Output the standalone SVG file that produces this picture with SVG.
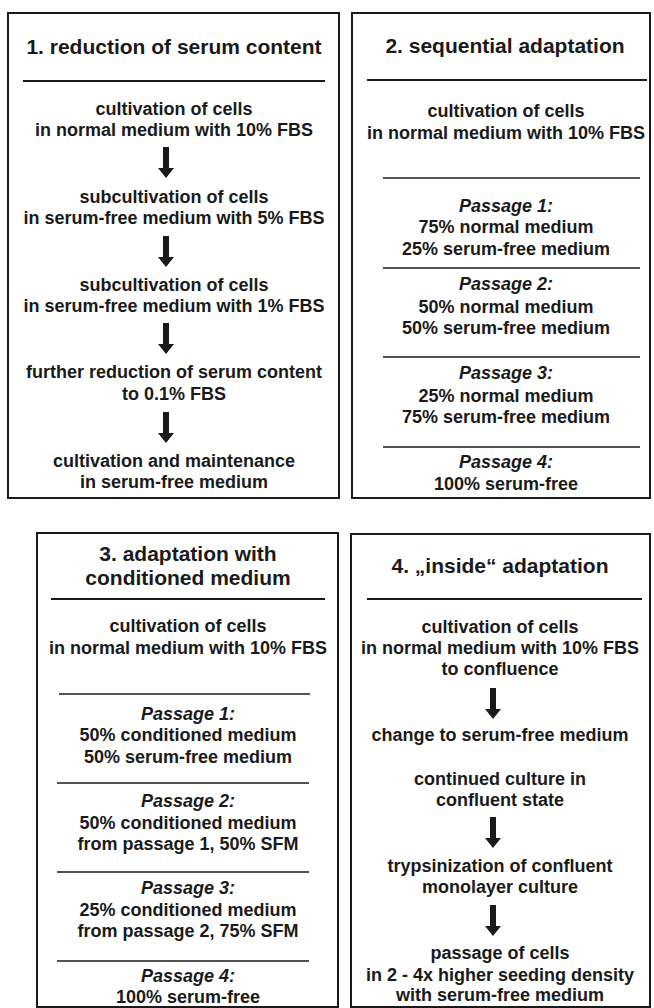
<svg xmlns="http://www.w3.org/2000/svg" xmlns:xlink="http://www.w3.org/1999/xlink" width="654" height="1008" viewBox="0 0 654 1008">
<style>
.box{fill:#fff;stroke:#1a1a1a;stroke-width:2}
.sep{stroke:#1a1a1a;stroke-width:2}
.sep2{stroke:#1a1a1a;stroke-width:1.6}
text{font-family:"Liberation Sans",Arial,Helvetica,sans-serif;font-weight:bold;fill:#1a1a1a;text-anchor:middle}
.t{font-size:21px}
.b{font-size:18px}
.i{font-size:18px;font-style:italic}
.arr{fill:#1a1a1a}
</style>
<defs>
<path id="arrow" d="M-3,0 H3 V21 H8 L0,31 L-8,21 H-3 Z"/>
</defs>
<rect width="654" height="1008" fill="#fff"/>
<g id="box1">
<rect class="box" x="8" y="13" width="331" height="485"/>
<text class="t" x="174" y="54">1. reduction of serum content</text>
<line class="sep" x1="23" y1="81" x2="325" y2="81"/>
<text class="b" x="174" y="115">cultivation of cells</text>
<text class="b" x="174" y="136">in normal medium with 10% FBS</text>
<text class="b" x="174" y="203">subcultivation of cells</text>
<text class="b" x="174" y="224">in serum-free medium with 5% FBS</text>
<text class="b" x="174" y="291">subcultivation of cells</text>
<text class="b" x="174" y="312">in serum-free medium with 1% FBS</text>
<text class="b" x="174" y="378">further reduction of serum content</text>
<text class="b" x="174" y="400">to 0.1% FBS</text>
<text class="b" x="174" y="467">cultivation and maintenance</text>
<text class="b" x="174" y="488">in serum-free medium</text>
</g>
<g id="box2">
<rect class="box" x="352" y="13" width="298" height="485"/>
<text class="t" x="505" y="53">2. sequential adaptation</text>
<line class="sep" x1="367" y1="80" x2="647" y2="80"/>
<text class="b" x="506" y="117">cultivation of cells</text>
<text class="b" x="506" y="139">in normal medium with 10% FBS</text>
<line class="sep2" x1="383" y1="178" x2="640" y2="178"/>
<text class="i" x="506" y="212">Passage 1:</text>
<text class="b" x="506" y="233">75% normal medium</text>
<text class="b" x="506" y="255">25% serum-free medium</text>
<line class="sep2" x1="383" y1="268" x2="640" y2="268"/>
<text class="i" x="506" y="290">Passage 2:</text>
<text class="b" x="506" y="313">50% normal medium</text>
<text class="b" x="506" y="334">50% serum-free medium</text>
<line class="sep2" x1="383" y1="357" x2="640" y2="357"/>
<text class="i" x="506" y="379">Passage 3:</text>
<text class="b" x="506" y="402">25% normal medium</text>
<text class="b" x="506" y="423">75% serum-free medium</text>
<line class="sep2" x1="383" y1="447" x2="640" y2="447"/>
<text class="i" x="506" y="468">Passage 4:</text>
<text class="b" x="506" y="490">100% serum-free</text>
</g>
<g id="box3">
<rect class="box" x="37" y="533" width="301" height="474"/>
<text class="t" x="188" y="561">3. adaptation with</text>
<text class="t" x="188" y="585">conditioned medium</text>
<line class="sep" x1="51" y1="599" x2="325" y2="599"/>
<text class="b" x="188" y="632">cultivation of cells</text>
<text class="b" x="188" y="654">in normal medium with 10% FBS</text>
<line class="sep2" x1="59" y1="694" x2="310" y2="694"/>
<text class="i" x="188" y="720">Passage 1:</text>
<text class="b" x="188" y="741">50% conditioned medium</text>
<text class="b" x="188" y="763">50% serum-free medium</text>
<line class="sep2" x1="57" y1="783" x2="309" y2="783"/>
<text class="i" x="188" y="807">Passage 2:</text>
<text class="b" x="188" y="829">50% conditioned medium</text>
<text class="b" x="188" y="850">from passage 1, 50% SFM</text>
<line class="sep2" x1="57" y1="872" x2="309" y2="872"/>
<text class="i" x="188" y="894">Passage 3:</text>
<text class="b" x="188" y="916">25% conditioned medium</text>
<text class="b" x="188" y="937">from passage 2, 75% SFM</text>
<line class="sep2" x1="57" y1="961" x2="309" y2="961"/>
<text class="i" x="188" y="982">Passage 4:</text>
<text class="b" x="188" y="1003">100% serum-free</text>
</g>
<g id="box4">
<rect class="box" x="351" y="534" width="299" height="473"/>
<text class="t" x="500" y="573">4. „inside“ adaptation</text>
<line class="sep" x1="367" y1="599" x2="642" y2="599"/>
<text class="b" x="500" y="633">cultivation of cells</text>
<text class="b" x="500" y="654">in normal medium with 10% FBS</text>
<text class="b" x="500" y="675">to confluence</text>
<text class="b" x="500" y="741">change to serum-free medium</text>
<text class="b" x="500" y="785">continued culture in</text>
<text class="b" x="500" y="806">confluent state</text>
<text class="b" x="500" y="872">trypsinization of confluent</text>
<text class="b" x="500" y="893">monolayer culture</text>
<text class="b" x="500" y="959">passage of cells</text>
<text class="b" x="500" y="981">in 2 - 4x higher seeding density</text>
<text class="b" x="500" y="1001">with serum-free medium</text>
</g>
<g id="connectors" class="arr">
<use xlink:href="#arrow" href="#arrow" x="166" y="147"/>
<use xlink:href="#arrow" href="#arrow" x="166" y="236"/>
<use xlink:href="#arrow" href="#arrow" x="166" y="323"/>
<use xlink:href="#arrow" href="#arrow" x="166" y="412"/>
<use xlink:href="#arrow" href="#arrow" x="493" y="688"/>
<use xlink:href="#arrow" href="#arrow" x="493" y="817"/>
<use xlink:href="#arrow" href="#arrow" x="493" y="905"/>
</g>
</svg>
